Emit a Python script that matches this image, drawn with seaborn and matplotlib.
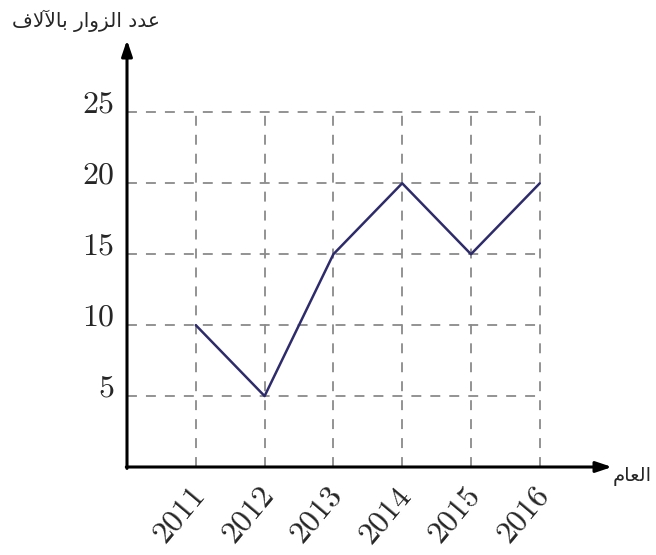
import matplotlib
matplotlib.use("Agg")
import matplotlib.pyplot as plt
import matplotlib.transforms as mtransforms
import seaborn as sns
import pandas as pd

# Visitors (thousands) per year
years = [2011, 2012, 2013, 2014, 2015, 2016]
visitors = [10, 5, 15, 20, 15, 20]
y_ticks = [5, 10, 15, 20, 25]

# Arabic labels, written in shaped presentation forms in visual order
y_title = "\uFED1\uFEFB\uFEF5\uFE8E\uFE91 \uFEAD\uFE8D\uFEED\uFEB0\uFEDF\uFE8D \uFEA9\uFEAA\uFECB"  # عدد الزوار بالآلاف
x_title = "\uFEE1\uFE8E\uFECC\uFEDF\uFE8D"  # العام

sns.set_style("white")
plt.rcParams["mathtext.fontset"] = "cm"
plt.rcParams["font.family"] = ["DejaVu Sans"]

df = pd.DataFrame({"year": years, "visitors": visitors})

fig = plt.figure(figsize=(6.56, 5.55), dpi=100)
ax = fig.add_axes([127 / 656, 88 / 555, (612 - 127) / 656, (467 - 40) / 555])

x0, x1 = 2010, 2017.05
y0, y1 = 0, 30.1
ax.set_xlim(x0, x1)
ax.set_ylim(y0, y1)

# bounded dashed grid
grid_kw = dict(colors="#8a8a8a", linestyles=(0, (5.5, 5.0)), linewidth=1.3, zorder=1)
ax.hlines(y_ticks, x0, years[-1], **grid_kw)
ax.vlines(years, 0, y_ticks[-1], **grid_kw)

sns.lineplot(data=df, x="year", y="visitors", ax=ax, color="#2d2b6b",
             linewidth=1.8, zorder=3)

for s in ax.spines.values():
    s.set_visible(False)

# axes drawn as arrows
arrow_kw = dict(arrowstyle="-|>,head_length=0.95,head_width=0.32", color="black",
                lw=2.2, shrinkA=0, shrinkB=0)
ax.annotate("", xy=(x1, 0), xytext=(x0 - 0.01, 0), arrowprops=arrow_kw,
            annotation_clip=False, zorder=5)
ax.annotate("", xy=(x0, y1), xytext=(x0, -0.1), arrowprops=arrow_kw,
            annotation_clip=False, zorder=5)

ax.set_xticks(years)
ax.set_xticklabels([f"${y}$" for y in years], rotation=50, ha="right",
                   rotation_mode="anchor", fontsize=23)
ax.set_yticks(y_ticks)
ax.set_yticklabels([f"${v}$" for v in y_ticks], fontsize=23, va="baseline")
ax.tick_params(axis="both", length=0)
ax.tick_params(axis="x", pad=10)
ax.tick_params(axis="y", pad=9)
ax.set_xlabel("")
ax.set_ylabel("")

shift = mtransforms.ScaledTranslation(-8 / 100, 0, fig.dpi_scale_trans)
for lab in ax.get_xticklabels():
    lab.set_transform(lab.get_transform() + shift)

fig.text(12 / 656, 1 - 21 / 555, y_title, fontsize=14.5, ha="left", va="center")
fig.text(652 / 656, 1 - 476 / 555, x_title, fontsize=14, ha="right", va="center")

fig.savefig("out.png", dpi=100)
